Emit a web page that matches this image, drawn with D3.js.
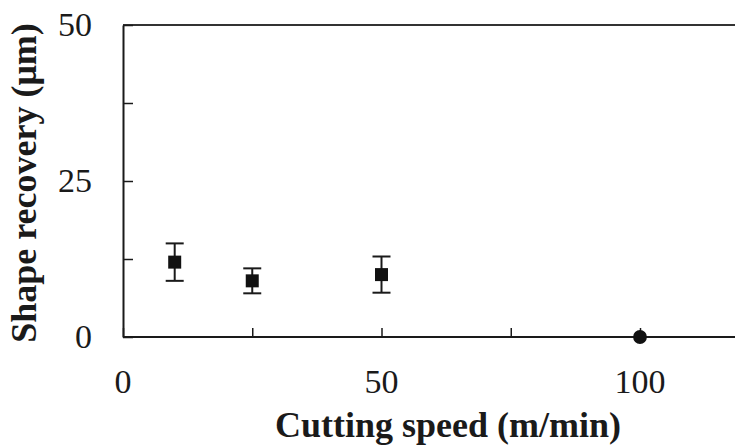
<!DOCTYPE html>
<html>
<head>
<meta charset="utf-8">
<script src="https://cdn.jsdelivr.net/npm/d3@7"></script>
<style>
  body { margin: 0; background: #fff; }
</style>
</head>
<body>
<svg id="chart" width="735" height="445"></svg>
<script>
// data
const speeds = [10, 25, 50, 100];          // cutting speed (m/min)
const recovery = [12, 9, 10, 0];           // shape recovery (um)
const errors = [3, 2, 2.9, 0];             // +/- error bar
const markers = ["square", "square", "square", "circle"];
const xTickLabels = [0, 50, 100];
const yTickLabels = [0, 25, 50];

const svg = d3.select("#chart");
const W = 735;
const FONT = "Liberation Serif";

const x = d3.scaleLinear().domain([0, 120]).range([123, 743.4]);
const y = d3.scaleLinear().domain([0, 50]).range([337, 25]);

const ink = "#1a1a1a";

// frame: top line runs off the right edge
svg.append("line")
  .attr("x1", x(0)).attr("x2", W)
  .attr("y1", y(50)).attr("y2", y(50))
  .attr("stroke", "#333").attr("stroke-width", 2);

// x axis, ticks pointing in
const xAxis = svg.append("g")
  .attr("transform", `translate(0,${y(0)})`)
  .call(d3.axisBottom(x).tickValues([0, 25, 50, 75, 100]).tickSizeInner(-9).tickSizeOuter(0).tickFormat(""));
xAxis.select(".domain").attr("stroke", ink).attr("stroke-width", 2).attr("d", `M${x(0)},0H${W}`);
xAxis.selectAll(".tick line").attr("stroke", ink).attr("stroke-width", 1.5);

// y axis, ticks pointing in
const yAxis = svg.append("g")
  .attr("transform", `translate(${x(0)},0)`)
  .call(d3.axisLeft(y).tickValues([0, 12.5, 25, 37.5, 50]).tickSizeInner(-10).tickSizeOuter(0).tickFormat(""));
yAxis.select(".domain").attr("stroke", ink).attr("stroke-width", 2);
yAxis.selectAll(".tick line").attr("stroke", ink).attr("stroke-width", 1.5);

// tick labels
svg.append("g").selectAll("text")
  .data(xTickLabels).join("text")
  .attr("x", d => x(d)).attr("y", 393)
  .attr("text-anchor", "middle")
  .attr("font-family", FONT).attr("fill", ink)
  .attr("font-size", 34)
  .text(d => d);

svg.append("g").selectAll("text")
  .data(yTickLabels).join("text")
  .attr("x", 92).attr("y", d => y(d) + 11)
  .attr("text-anchor", "end")
  .attr("font-family", FONT).attr("fill", ink)
  .attr("font-size", 34)
  .text(d => d);

// axis titles
svg.append("text")
  .attr("x", 448).attr("y", 437)
  .attr("text-anchor", "middle")
  .attr("font-family", FONT).attr("fill", ink)
  .attr("font-size", 36).attr("font-weight", "bold")
  .text("Cutting speed (m/min)");

svg.append("text")
  .attr("transform", `translate(36,${(y(0) + y(50)) / 2 + 2}) rotate(-90)`)
  .attr("text-anchor", "middle")
  .attr("font-family", FONT).attr("fill", ink)
  .attr("font-size", 36).attr("font-weight", "bold")
  .text("Shape recovery (\u03bcm)");

// error bars
const pts = speeds.map((s, i) => ({ s, v: recovery[i], e: errors[i], m: markers[i] }));
const bars = svg.append("g").selectAll("g")
  .data(pts.filter(d => d.e > 0)).join("g")
  .attr("stroke", ink).attr("stroke-width", 2);
bars.append("line")
  .attr("x1", d => x(d.s)).attr("x2", d => x(d.s))
  .attr("y1", d => y(d.v + d.e)).attr("y2", d => y(d.v - d.e));
bars.append("line")
  .attr("x1", d => x(d.s) - 9).attr("x2", d => x(d.s) + 9)
  .attr("y1", d => y(d.v + d.e)).attr("y2", d => y(d.v + d.e));
bars.append("line")
  .attr("x1", d => x(d.s) - 9).attr("x2", d => x(d.s) + 9)
  .attr("y1", d => y(d.v - d.e)).attr("y2", d => y(d.v - d.e));

// markers
const sym = { square: d3.symbolSquare, circle: d3.symbolCircle };
svg.append("g").selectAll("path")
  .data(pts).join("path")
  .attr("transform", d => `translate(${x(d.s)},${y(d.v)})`)
  .attr("d", d => d3.symbol(sym[d.m], d.m === "square" ? 169 : 150)())
  .attr("fill", "#111");
</script>
</body>
</html>
